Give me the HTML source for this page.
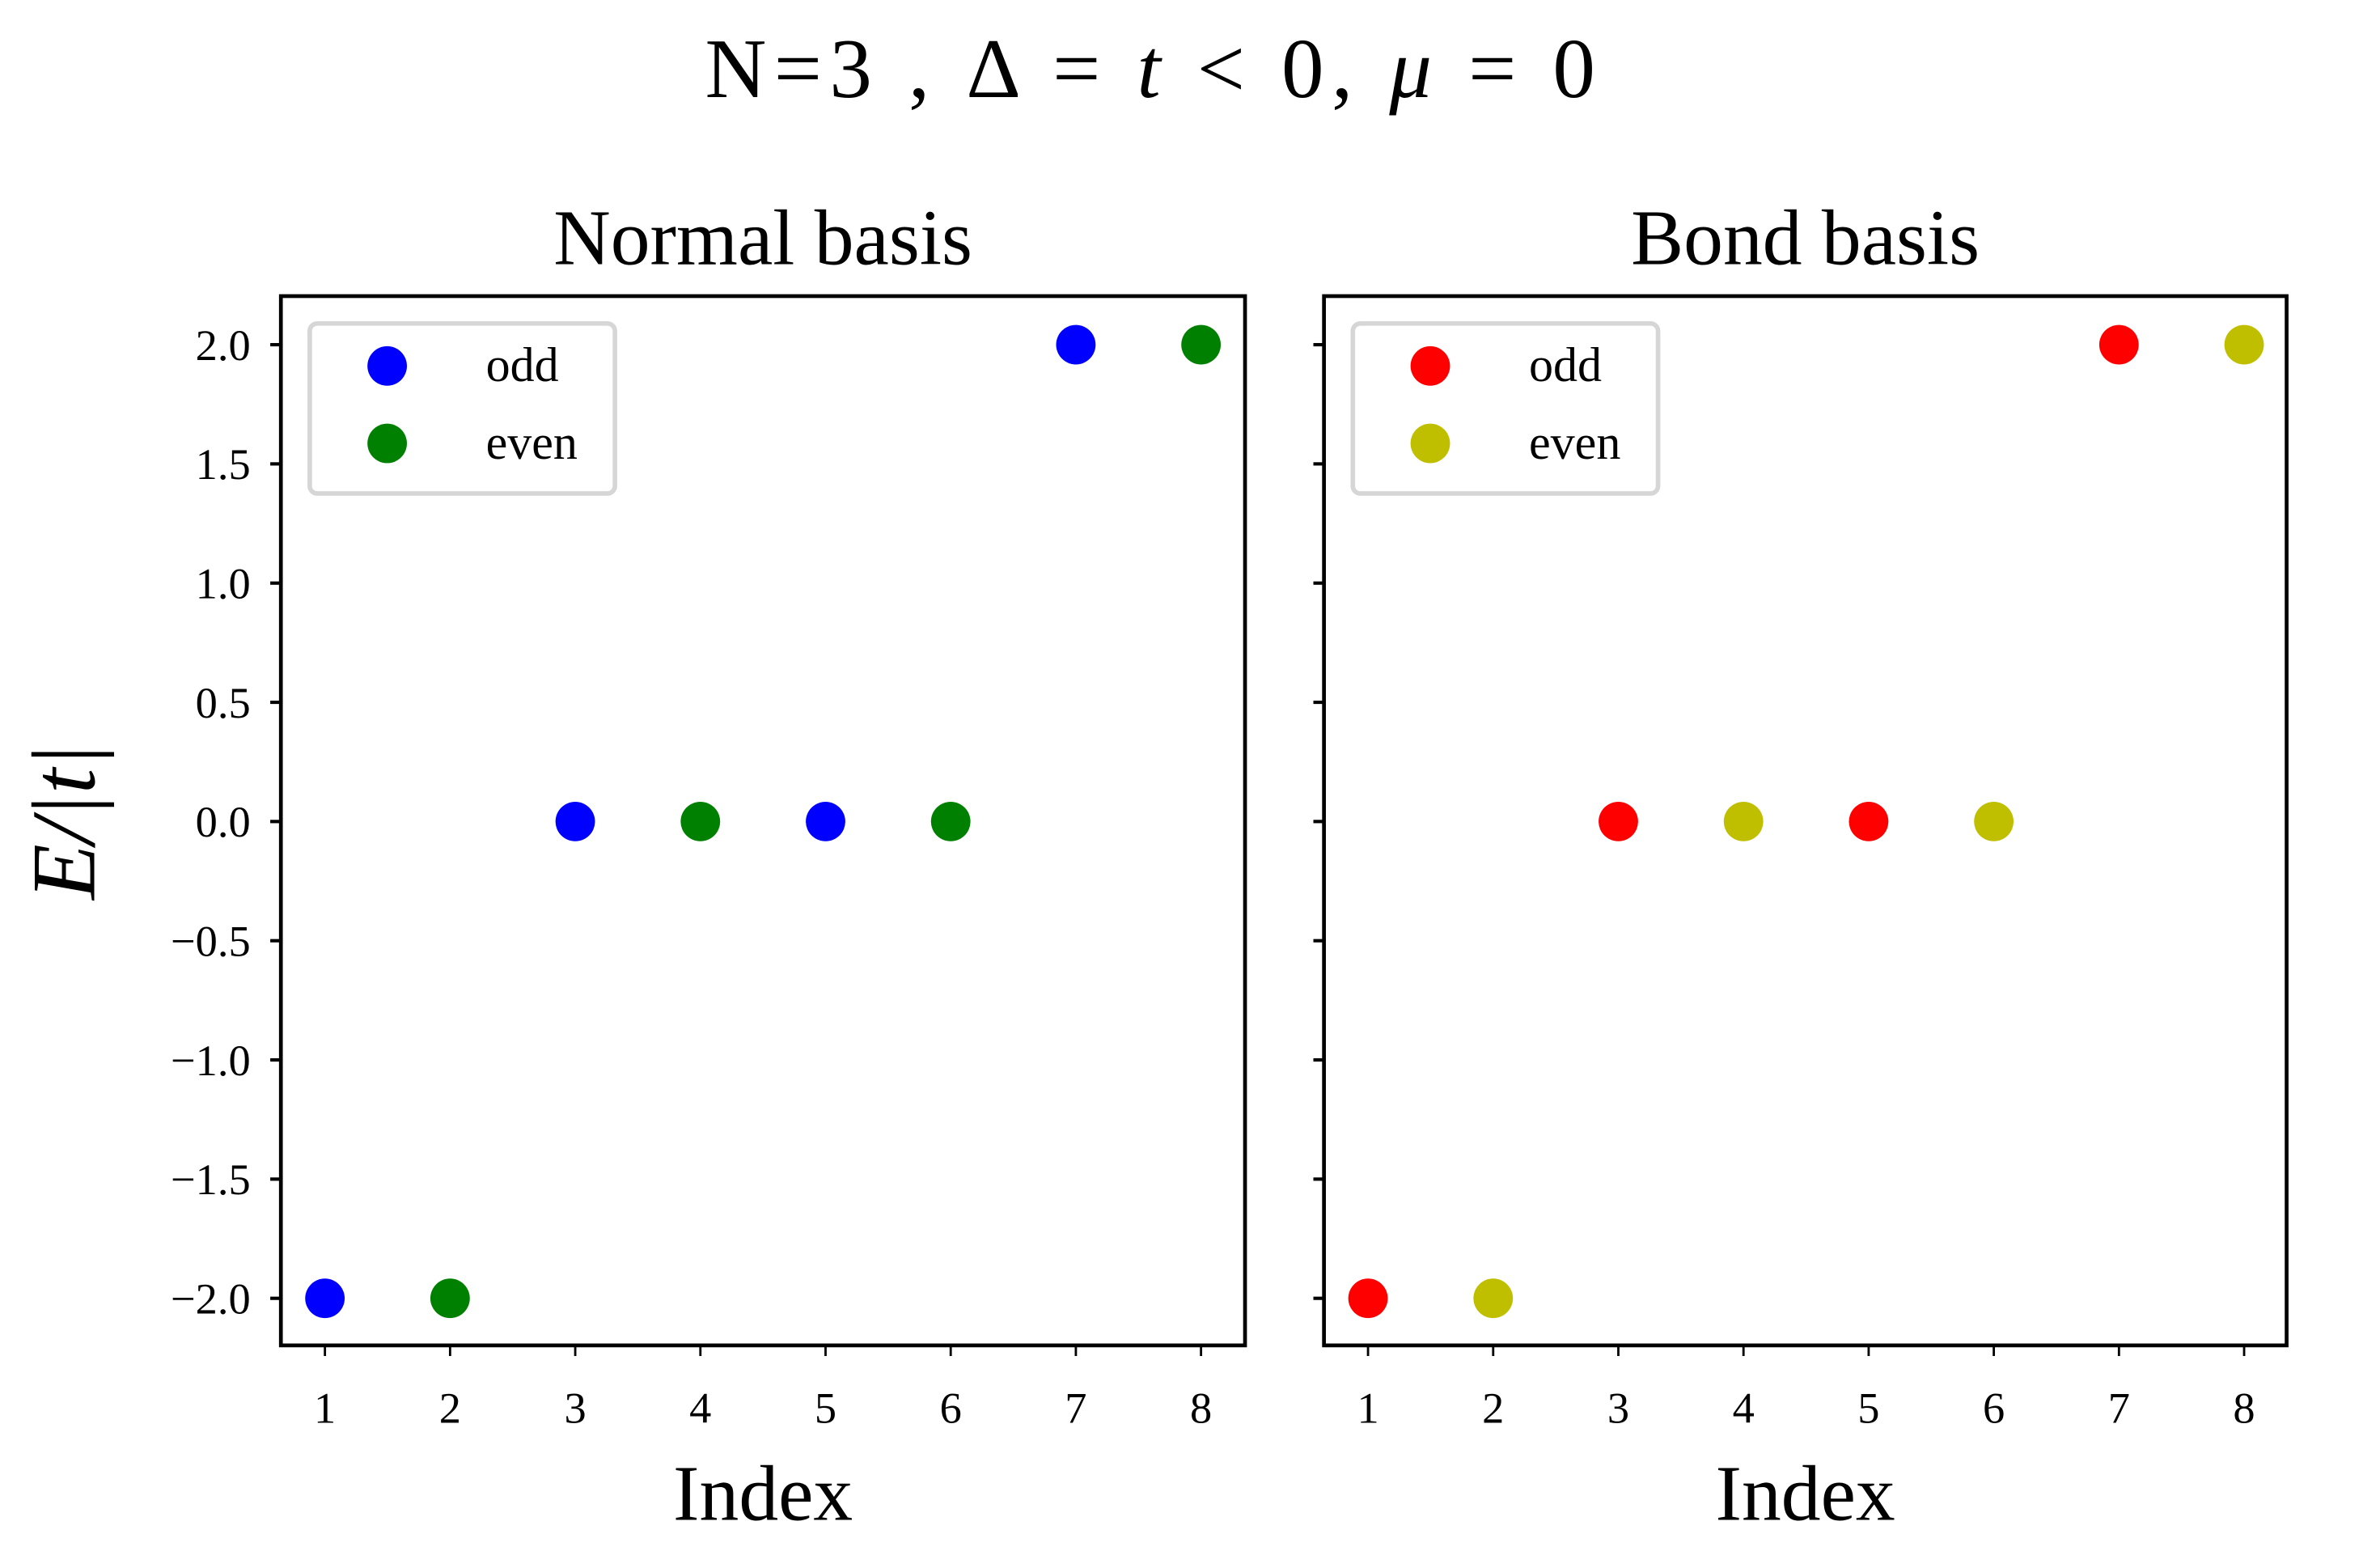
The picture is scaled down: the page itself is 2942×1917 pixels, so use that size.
<!DOCTYPE html>
<html><head><meta charset="utf-8"><style>
html,body{margin:0;padding:0;background:#fff;}
svg{display:block;}
text{font-family:"Liberation Serif",serif;fill:#000;}
</style></head><body>
<svg id="fig" width="2942" height="1917" viewBox="0 0 1567.5 1021.4" preserveAspectRatio="none">
<text x="760" y="64" font-size="56" letter-spacing="5" text-anchor="middle">N=3 , <tspan>Δ = </tspan><tspan font-style="italic">t</tspan> &lt; 0, <tspan font-style="italic">μ</tspan> = 0</text>
<text transform="translate(62,541) rotate(-90)" font-size="60" font-style="italic" text-anchor="middle">E/|t|</text>
<g id="plots"></g>
</svg>
<script>
const categories=[1,2,3,4,5,6,7,8];
const oddX=[1,3,5,7];
const oddY=[-2,0,0,2];
const evenX=[2,4,6,8];
const evenY=[-2,0,0,2];
const yTicks=[2.0,1.5,1.0,0.5,0.0,-0.5,-1.0,-1.5,-2.0];
const yTickLabels=["2.0","1.5","1.0","0.5","0.0","\u22120.5","\u22121.0","\u22121.5","\u22122.0"];
const panelTitles=["Normal basis","Bond basis"];

const NS="http://www.w3.org/2000/svg";
const g=document.getElementById('plots');
function mk(tag,attrs,parent){const e=document.createElementNS(NS,tag);for(const k in attrs)e.setAttribute(k,attrs[k]);(parent||g).appendChild(e);return e;}
const axTop=195,axBot=886;
function yS(v){return 541-v*157;}
const panels=[{x0:185,x1:820,c:["#0000ff","#008000"],name:"normal"},{x0:872,x1:1506,c:["#ff0000","#bfbf00"],name:"bond"}];
panels.forEach((p,pi)=>{
  const xS=v=>p.x0+29+(v-1)*82.43;
  const grp=mk('g',{});
  
  
  const t=mk('text',{x:(p.x0+p.x1)/2,y:174,'font-size':52,'text-anchor':'middle'},grp);
  t.textContent=panelTitles[pi];
  
  
  yTicks.forEach((v,i)=>{
    const tk=mk('line',{x1:p.x0-7,x2:p.x0,y1:yS(v),y2:yS(v),stroke:'#000','stroke-width':2.2},grp);
    
    
    if(pi===0){const l=mk('text',{x:p.x0-20,y:yS(v)+10,'font-size':29,'text-anchor':'end'},grp);l.textContent=yTickLabels[i];
      
      }
  });
  categories.forEach(v=>{
    const tk=mk('line',{x1:xS(v),x2:xS(v),y1:axBot,y2:axBot+7,stroke:'#000','stroke-width':1.5},grp);
    
    
    const l=mk('text',{x:xS(v),y:axBot+51,'font-size':29,'text-anchor':'middle'},grp);l.textContent=v;
    
    
  });
  const xl=mk('text',{x:(p.x0+p.x1)/2,y:1001,'font-size':52,'text-anchor':'middle'},grp);xl.textContent='Index';
  
  
  [[oddX,oddY,p.c[0],'odd'],[evenX,evenY,p.c[1],'even']].forEach(s=>{
    s[0].forEach((x,i)=>{
      const c=mk('circle',{cx:xS(x),cy:yS(s[1][i]),r:13,fill:s[2]},grp);
      
      
    });
  });
  const fr=mk('rect',{x:p.x0,y:axTop,width:p.x1-p.x0,height:axBot-axTop,fill:'none',stroke:'#000','stroke-width':2.5},grp);
  
  
  const lg=mk('g',{},grp);
  
  
  mk('rect',{x:p.x0+19,y:213,width:201,height:112,rx:5,fill:'#fff',stroke:'#d6d6d6','stroke-width':3},lg);
  [['odd',241,p.c[0]],['even',292,p.c[1]]].forEach(e=>{
    const ent=mk('g',{},lg);
    
    
    mk('circle',{cx:p.x0+70,cy:e[1],r:13,fill:e[2]},ent);
    const tx=mk('text',{x:p.x0+135,y:e[1]+10,'font-size':32},ent);tx.textContent=e[0];
  });
});
</script>
</body></html>
